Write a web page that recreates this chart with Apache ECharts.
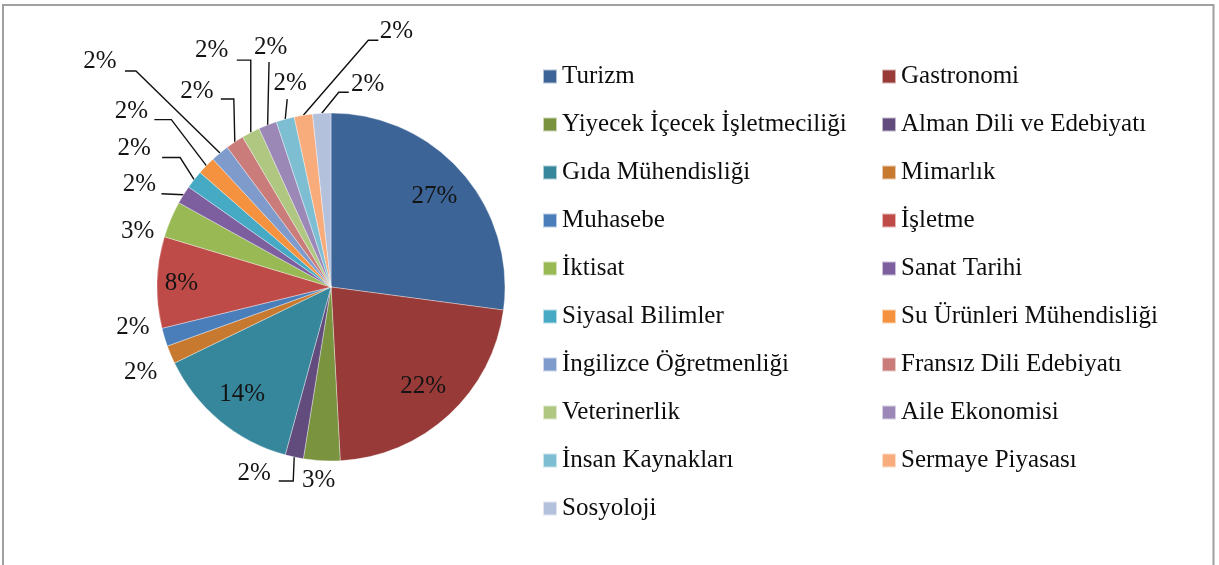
<!DOCTYPE html>
<html>
<head>
<meta charset="utf-8">
<script src="https://cdn.jsdelivr.net/npm/echarts@6/dist/echarts.min.js"></script>
<style>
  html, body { margin: 0; padding: 0; background: #fff; }
  #chart { width: 1219px; height: 565px; }
</style>
</head>
<body>
<div id="chart"></div>
<script>
// Departments (in slice order, clockwise from 12 o'clock) and student counts
const departments = [
  'Turizm', 'Gastronomi', 'Yiyecek İçecek İşletmeciliği', 'Alman Dili ve Edebiyatı',
  'Gıda Mühendisliği', 'Mimarlık', 'Muhasebe', 'İşletme', 'İktisat', 'Sanat Tarihi',
  'Siyasal Bilimler', 'Su Ürünleri Mühendisliği', 'İngilizce Öğretmenliği',
  'Fransız Dili Edebiyatı', 'Veterinerlik', 'Aile Ekonomisi', 'İnsan Kaynakları',
  'Sermaye Piyasası', 'Sosyoloji'
];
const counts = [16, 13, 2, 1, 8, 1, 1, 5, 2, 1, 1, 1, 1, 1, 1, 1, 1, 1, 1];

const colors = [
  '#3C6496', '#983A38', '#79933E', '#624C7E', '#36869C', '#C7792F',
  '#4A7EBB', '#BE4B48', '#98B954', '#7D5FA0', '#46AAC5', '#F59240',
  '#7F9BCB', '#CA7C7A', '#AFC781', '#9B88B6', '#7DBED3', '#F8AC7C', '#B3C1DD'
];

const SERIF = '"Liberation Serif", "DejaVu Serif", serif';
const PIE_CENTER = [331, 287];
const PIE_RADIUS = 174;

// Labels drawn inside the big slices, as a fraction of the radius
const insideLabelRadius = {
  'Turizm': 0.79,
  'Gastronomi': 0.78,
  'Gıda Mühendisliği': 0.80,
  'İşletme': 0.86
};

// Outside labels: text centre and leader-line points, relative to the slice's rim anchor
const outsideLabels = {
  'Yiyecek İçecek İşletmeciliği': { at: [-3, 20], line: [] },
  'Alman Dili ve Edebiyatı':      { at: [-40, 16], line: [[-1, 24], [-15.5, 24]] },
  'Mimarlık':                     { at: [-30, 18], line: [] },
  'Muhasebe':                     { at: [-31.5, -10], line: [] },
  'İktisat':                      { at: [-33, 12], line: [] },
  'Sanat Tarihi':                 { at: [-44, -10], line: [[-22, -1]] },
  'Siyasal Bilimler':             { at: [-60, -31], line: [[-14, -22], [-32, -22]] },
  'Su Ürünleri Mühendisliği':     { at: [-75, -54], line: [[-35, -46], [-52, -46]] },
  'İngilizce Öğretmenliği':       { at: [-120, -92], line: [[-84, -82], [-95, -82]] },
  'Fransız Dili Edebiyatı':       { at: [-38, -51], line: [[-1, -43], [-14, -43]] },
  'Veterinerlik':                 { at: [-39, -82], line: [[0, -72.5], [-14, -72.5]] },
  'Aile Ekonomisi':               { at: [3, -78], line: [[1.4, -63]] },
  'İnsan Kaynakları':             { at: [5, -36], line: [[2, -20]] },
  'Sermaye Piyasası':             { at: [93, -84], line: [[65, -75], [75, -75]] },
  'Sosyoloji':                    { at: [46, -29], line: [[17, -21], [27, -21]] }
};

const pieData = departments.map(function (name, i) {
  const item = { name: name, value: counts[i] };
  if (insideLabelRadius[name] != null) {
    item.label = { position: 'inside' };
    item.labelLine = { show: false };
  } else if (outsideLabels[name].line.length === 0) {
    item.labelLine = { lineStyle: { opacity: 0 } };
  }
  return item;
});

const legendText = { fontFamily: SERIF, fontSize: 25, lineHeight: 24, color: '#0d0d0d' };
const legendBase = {
  orient: 'vertical', top: 64, itemGap: 23, itemWidth: 14, itemHeight: 14,
  icon: 'rect', selectedMode: false, padding: 0, textStyle: legendText
};

const chart = echarts.init(document.getElementById('chart'));
chart.setOption({
  animation: false,
  color: colors,
  graphic: [{
    type: 'rect', silent: true, z: -1,
    shape: { x: 3, y: 5, width: 1210.5, height: 640 },
    style: { fill: 'none', stroke: '#a0a0a0', lineWidth: 2 }
  }],
  legend: [
    Object.assign({}, legendBase, { left: 542, data: departments.filter(function (_, i) { return i % 2 === 0; }) }),
    Object.assign({}, legendBase, { left: 881, data: departments.filter(function (_, i) { return i % 2 === 1; }) })
  ],
  series: [{
    type: 'pie',
    center: PIE_CENTER,
    radius: PIE_RADIUS,
    startAngle: 90,
    clockwise: true,
    silent: true,
    avoidLabelOverlap: false,
    itemStyle: { borderColor: 'rgba(255,255,255,0.6)', borderWidth: 0.6 },
    label: {
      show: true,
      position: 'outside',
      fontFamily: SERIF,
      fontSize: 25,
      color: '#141414',
      formatter: function (p) { return Math.round(p.percent) + '%'; }
    },
    labelLine: { show: true, length: 10, length2: 10, lineStyle: { color: '#111', width: 1.4 } },
    labelLayout: function (p) {
      const name = departments[p.dataIndex];
      if (insideLabelRadius[name] != null) {
        const r = p.labelRect;
        const lx = r.x + r.width / 2, ly = r.y + r.height / 2;
        const a = Math.atan2(ly - PIE_CENTER[1], lx - PIE_CENTER[0]);
        const rr = PIE_RADIUS * insideLabelRadius[name];
        return {
          x: PIE_CENTER[0] + rr * Math.cos(a),
          y: PIE_CENTER[1] + rr * Math.sin(a),
          align: 'center', verticalAlign: 'middle'
        };
      }
      const spec = outsideLabels[name];
      const a0 = p.labelLinePoints ? p.labelLinePoints[0] : [p.labelRect.x, p.labelRect.y];
      const pts = [a0].concat(spec.line.map(function (q) { return [a0[0] + q[0], a0[1] + q[1]]; }));
      return {
        x: a0[0] + spec.at[0],
        y: a0[1] + spec.at[1],
        align: 'center', verticalAlign: 'middle',
        labelLinePoints: pts.length > 1 ? pts : [a0, a0]
      };
    },
    data: pieData
  }]
});
</script>
</body>
</html>
